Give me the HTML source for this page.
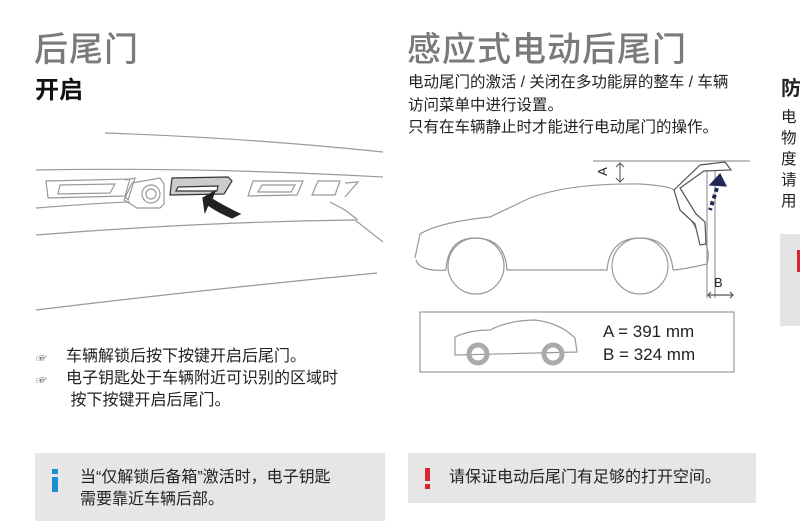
<!DOCTYPE html>
<html><head><meta charset="utf-8">
<style>
body{margin:0;width:800px;height:521px;background:#fff;position:relative;overflow:hidden;font-family:"Liberation Sans","Noto Sans CJK SC",sans-serif;color:#222}
.a{position:absolute;white-space:nowrap}
.h1{font-size:34px;color:#7a7a7a;font-weight:500;letter-spacing:1px}
.p{font-size:15.5px;line-height:22px;color:#222}
</style></head><body>
<div class="a h1" style="left:34px;top:22px">后尾门</div>
<div class="a" style="left:35px;top:70px;font-size:24px;font-weight:bold;color:#111">开启</div>
<div class="a h1" style="left:407px;top:22px">感应式电动后尾门</div>
<div class="a p" style="left:408px;top:72px;line-height:22.5px">电动尾门的激活 / 关闭在多功能屏的整车 / 车辆<br>访问菜单中进行设置。<br>只有在车辆静止时才能进行电动尾门的操作。</div>
<div class="a" style="left:781px;top:72px;font-size:20px;font-weight:bold">防</div>
<div class="a p" style="left:781px;top:107px;line-height:21px">电<br>物<br>度<br>请<br>用</div>
<div class="a" style="left:780px;top:234px;width:20px;height:92px;background:#e4e4e4"></div>
<div class="a" style="left:797px;top:250px;width:4px;height:22px;background:#d9262e"></div>

<svg class="a" style="left:0;top:0" width="800" height="521" fill="none" stroke="#999" stroke-width="1.2">
<path d="M105 133 Q250 138 383 152"/>
<path d="M36 170 Q200 167 383 177"/>
<path d="M36 208 Q100 203 130 202"/>
<path d="M36 235 Q200 222 355 220 L383 242"/>
<path d="M36 310 Q200 290 377 273"/>
<path d="M330 202 L345 210 L358 220"/>
<path d="M46 181 L130 179 L125 196 L48 198 Z"/>
<path d="M60 185 L115 184 L110 193 L58 194 Z"/>
<path d="M125 180 L135 178 L128 200 L125 196"/>
<path d="M132 183 L160 178 L164 184 L164 204 L160 208 L137 208 L124 200 Z"/>
<circle cx="151" cy="194" r="9"/><circle cx="151" cy="194" r="5"/>
<path d="M172 178 L228 177 L232 181 L224 194 L170 195 Z" fill="#ccc" stroke="#333"/>
<path d="M178 187 L218 186 L217 191 L176 191 Z" fill="#fff" stroke="#333"/>
<path d="M253 181 L303 181 L297 195 L248 196 Z"/>
<path d="M262 185 L295 185 L291 192 L258 192 Z"/>
<path d="M318 181 L340 181 L335 195 L312 195 Z"/>
<path d="M345 183 L358 182 L345 197"/>
<path d="M203 198 L215 191 L212 199 Q225 207 240 214 L232 218 Q218 212 208 205 L205 212 Z" fill="#222" stroke="#222"/>
<path d="M593 161 L750 161"/>
<path d="M620 163 L620 182 M616 167 L620 163 L624 167 M616 178 L620 182 L624 178" stroke="#666"/>
<path d="M715 165 L715 298 M707 165 L707 298"/>
<path d="M708 295 L733 295 M711 292 L708 295 L711 298 M730 292 L733 295 L730 298" stroke="#555"/>
<path d="M415 258 L420 234 Q440 222 490 217 L530 198 Q570 183 640 184 Q670 186 674 190 L698 232 Q712 248 707 264 Q680 270 673 270 M673 270 Q670 238 640 238 Q610 238 607 270 L507 270 Q505 238 475 238 Q448 238 446 270 Q420 272 416 260"/>
<circle cx="476" cy="266" r="28"/><circle cx="640" cy="266" r="28"/>
<path d="M674 190 L700 165 L725 162 L731 170 L704 171 L680 188 L696 214 L705 222 L706 244 L700 245 L695 224 L680 210 Z" stroke="#555" fill="#fff"/>
<path d="M710 185 L720 174 L726 186 Z" fill="#1e2a55" stroke="#1e2a55"/>
<path d="M717 188 L710 210" stroke="#1e2a55" stroke-width="4" stroke-dasharray="4 3"/>
<rect x="420" y="312" width="314" height="60" stroke="#999"/>
<path d="M455 355 L455 337 Q470 330 490 330 Q510 320 535 320 Q560 323 575 338 L577 352 Z"/>
<circle cx="478" cy="354" r="9" stroke="#aaa" stroke-width="5"/><circle cx="553" cy="354" r="9" stroke="#aaa" stroke-width="5"/>
</svg>
<div class="a" style="left:714px;top:275px;font-size:13px">B</div>
<div class="a" style="left:598px;top:164px;font-size:13px;transform:rotate(-90deg)">A</div>
<div class="a" style="left:603px;top:320px;font-size:17px;line-height:23px">A = 391 mm<br>B = 324 mm</div>

<div class="a" style="left:36px;top:348px;font-size:11px;color:#555;line-height:22px">☞<br>☞</div>
<div class="a p" style="left:66px;top:346px;line-height:22px;font-size:16px">车辆解锁后按下按键开启后尾门。<br>电子钥匙处于车辆附近可识别的区域时<br>&nbsp;按下按键开启后尾门。</div>

<div class="a" style="left:35px;top:453px;width:350px;height:68px;background:#e6e6e6"></div>
<div class="a" style="left:52px;top:469px;width:6px;height:5px;background:#1d8fd1"></div>
<div class="a" style="left:52px;top:477px;width:6px;height:15px;background:#1d8fd1"></div>
<div class="a p" style="left:80px;top:467px;font-size:16px">当“仅解锁后备箱”激活时，电子钥匙<br>需要靠近车辆后部。</div>

<div class="a" style="left:408px;top:453px;width:348px;height:50px;background:#e6e6e6"></div>
<div class="a" style="left:425px;top:468px;width:5px;height:13px;background:#d9262e"></div>
<div class="a" style="left:425px;top:484px;width:5px;height:5px;background:#d9262e"></div>
<div class="a p" style="left:449px;top:467px;font-size:16px">请保证电动后尾门有足够的打开空间。</div>
</body></html>
